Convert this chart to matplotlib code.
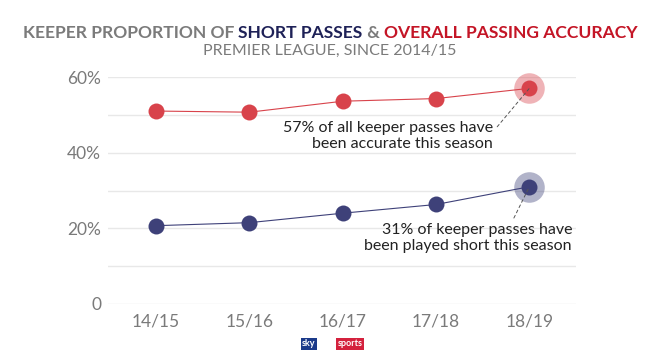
import matplotlib
matplotlib.use("Agg")
import matplotlib.pyplot as plt

seasons = ["14/15", "15/16", "16/17", "17/18", "18/19"]
accuracy = [51.0, 50.7, 53.6, 54.3, 57.0]
short_passes = [20.7, 21.5, 24.0, 26.3, 31.0]
ytick_vals = [0, 20, 40, 60]
ytick_labels = ["0", "20%", "40%", "60%"]

RED = "#d8434b"
NAVY = "#3e4179"
GRAY = "#7a7a7a"
TITLE_GRAY = "#7b7b7b"
TITLE_NAVY = "#1e2157"
TITLE_RED = "#c41526"

plt.rcParams['font.family'] = ['Lato', 'DejaVu Sans']

fig = plt.figure(figsize=(6.6, 3.5), dpi=100)
ax = fig.add_axes([108/660, 1-304/350, (576-108)/660, (304-77)/350])

x = list(range(len(seasons)))
ax.plot(x, accuracy, color=RED, lw=0.8, zorder=3)
ax.plot(x, short_passes, color=NAVY, lw=0.8, zorder=3)
ax.plot(x, accuracy, 'o', color=RED, ms=11.5, mec='none', zorder=4, clip_on=False)
ax.plot(x, short_passes, 'o', color=NAVY, ms=11.5, mec='none', zorder=4, clip_on=False)
ax.plot([x[-1]], [accuracy[-1]], 'o', color=RED, alpha=0.4, ms=22, mec='none', zorder=3, clip_on=False)
ax.plot([x[-1]], [short_passes[-1]], 'o', color=NAVY, alpha=0.4, ms=22, mec='none', zorder=3, clip_on=False)

ax.set_xlim(-0.515, 4.5)
ax.set_ylim(0, 60)
ax.set_yticks(ytick_vals)
ax.set_yticklabels(ytick_labels)
ax.set_yticks([10, 30, 50], minor=True)
ax.set_xticks(x)
ax.set_xticklabels(seasons)
ax.grid(True, which='both', axis='y', color='#e8e8e8', lw=1)
ax.set_axisbelow(True)
for s in ax.spines.values():
    s.set_visible(False)
ax.tick_params(axis='both', which='both', length=0, labelcolor=GRAY, labelsize=12.5)
ax.tick_params(axis='y', pad=5)
ax.tick_params(axis='x', pad=7)

# annotations
ax.annotate("57% of all keeper passes have\nbeen accurate this season",
            xy=(x[-1], accuracy[-1]), xycoords='data',
            xytext=(493/660, 1-136/350), textcoords='figure fraction',
            ha='right', va='center', fontsize=11.5, color='#222222', linespacing=1.25,
            arrowprops=dict(arrowstyle='-', ls=(0, (3, 3)), color='#555555', lw=0.7,
                            shrinkA=0, shrinkB=0, relpos=(1.02, 0.8)), zorder=5)
ax.annotate("31% of keeper passes have\nbeen played short this season",
            xy=(x[-1], short_passes[-1]), xycoords='data',
            xytext=(572/660, 1-238/350), textcoords='figure fraction',
            ha='right', va='center', fontsize=11.5, color='#222222', linespacing=1.25,
            arrowprops=dict(arrowstyle='-', ls=(0, (3, 3)), color='#555555', lw=0.7,
                            shrinkA=0, shrinkB=0, relpos=(0.72, 1.15)), zorder=5)

# title in colored pieces
parts = [("KEEPER PROPORTION OF ", TITLE_GRAY), ("SHORT PASSES", TITLE_NAVY),
         (" & ", TITLE_GRAY), ("OVERALL PASSING ACCURACY", TITLE_RED)]
fig.canvas.draw()
renderer = fig.canvas.get_renderer()

def measure(fs):
    ts = []
    tot = 0
    for s, c in parts:
        t = fig.text(0, 1-33/350, s, color=c, fontsize=fs, fontweight='bold', va='center', ha='left')
        w = t.get_window_extent(renderer).width
        ts.append((t, w))
        tot += w
    return ts, tot

texts, total = measure(13.5)
target = 617
fs = 13.5 * target / total
for t, _ in texts:
    t.remove()
texts, total = measure(fs)
cur = 330 - total/2
for t, w in texts:
    t.set_x(cur/660)
    cur += w

fig.text(0.5, 1-51/350, "PREMIER LEAGUE, SINCE 2014/15", color=GRAY, fontsize=11.5,
         ha='center', va='center')

# sky sports logo (at the bottom)
fig.text(309/660, 1-344/350, "sky", color='white', fontsize=6.5, fontweight='bold', ha='center', va='center',
         bbox=dict(boxstyle='square,pad=0.15', fc='#1b3a8a', ec='none'))
fig.text(350/660, 1-344/350, "sports", color='white', fontsize=6.5, fontweight='bold', ha='center', va='center',
         bbox=dict(boxstyle='square,pad=0.15', fc='#d4213d', ec='none'))

fig.savefig("out.png", dpi=100)
